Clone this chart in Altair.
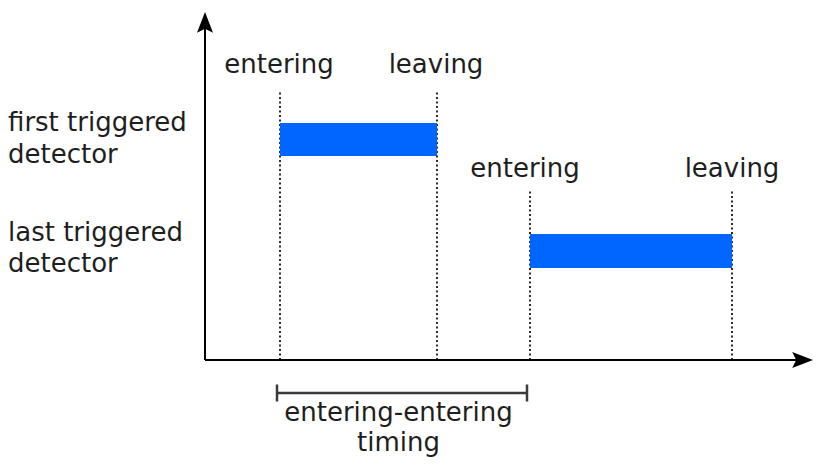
import altair as alt
import pandas as pd

# ---- data (time units measured from the origin, track height units) ----
event_t = [75, 232, 325, 527]
event_top = [270, 270, 170, 170]
event_labels = ["entering", "leaving", "entering", "leaving"]
label_t = [74, 231, 320, 527]
label_v = [287, 287, 183, 183]

bar_start = [75, 325]
bar_end = [232, 527]
bar_low = [204, 92]
bar_high = [237, 126]

row_labels = ["first triggered", "detector", "last triggered", "detector"]
row_v = [229, 197, 119, 88]
row_t = -197

axis_end_t = 604
axis_end_v = 345

bracket_start = 72
bracket_end = 322
bracket_v = -33
bracket_tick_half = 8.5
bottom_labels = ["entering-entering", "timing"]
bottom_v = [-61, -91]

FONT = "DejaVu Sans"
FS = 26
TXT = "#1e1e1e"

X = alt.Scale(domain=[-197, 608], nice=False, zero=False)
Y = alt.Scale(domain=[-97, 352], nice=False, zero=False)


def xq(f):
    return alt.X(f, type="quantitative", scale=X, axis=None)


def yq(f):
    return alt.Y(f, type="quantitative", scale=Y, axis=None)


# axis lines
axes_df = pd.DataFrame({
    "t0": [0, 0], "t1": [axis_end_t, 0],
    "v0": [0, 0], "v1": [0, axis_end_v],
})
axes = alt.Chart(axes_df).mark_rule(color="black", strokeWidth=2).encode(
    x=xq("t0"), x2="t1", y=yq("v0"), y2="v1")

arrow_right = alt.Chart(pd.DataFrame({"t": [608], "v": [0]})).mark_point(
    shape="M 0 0 L -2.6 -1 L -2.1 0 L -2.6 1 Z", size=256, filled=True,
    color="black", opacity=1, strokeWidth=0).encode(x=xq("t"), y=yq("v"))
arrow_up = alt.Chart(pd.DataFrame({"t": [0], "v": [348]})).mark_point(
    shape="M 0 0 L -1 2.6 L 0 2.1 L 1 2.6 Z", size=256, filled=True,
    color="black", opacity=1, strokeWidth=0).encode(x=xq("t"), y=yq("v"))

# dotted event lines
ev_df = pd.DataFrame({"t": event_t, "top": event_top, "base": [0] * 4})
dots = alt.Chart(ev_df).mark_rule(color="#2a2a2a", strokeWidth=2,
                                  strokeDash=[2, 2.5]).encode(
    x=xq("t"), y=yq("base"), y2="top")

# bars
bar_df = pd.DataFrame({"s": bar_start, "e": bar_end, "lo": bar_low, "hi": bar_high})
bars = alt.Chart(bar_df).mark_rect(color="#0066ff").encode(
    x=xq("s"), x2="e", y=yq("lo"), y2="hi")

# event labels
lab_df = pd.DataFrame({"t": label_t, "v": label_v, "txt": event_labels})
labels = alt.Chart(lab_df).mark_text(
    font=FONT, fontSize=FS, color=TXT, align="center", baseline="alphabetic"
).encode(x=xq("t"), y=yq("v"), text="txt:N")

# row labels
row_df = pd.DataFrame({"t": [row_t] * 4, "v": row_v, "txt": row_labels})
rows = alt.Chart(row_df).mark_text(
    font=FONT, fontSize=FS, color=TXT, align="left", baseline="alphabetic"
).encode(x=xq("t"), y=yq("v"), text="txt:N")

# bracket
br_df = pd.DataFrame({
    "t0": [bracket_start, bracket_start, bracket_end],
    "t1": [bracket_end, bracket_start, bracket_end],
    "v0": [bracket_v, bracket_v - bracket_tick_half, bracket_v - bracket_tick_half],
    "v1": [bracket_v, bracket_v + bracket_tick_half, bracket_v + bracket_tick_half],
})
bracket = alt.Chart(br_df).mark_rule(color="#3a3a3a", strokeWidth=2.5).encode(
    x=xq("t0"), x2="t1", y=yq("v0"), y2="v1")

bot_df = pd.DataFrame({"t": [(bracket_start + bracket_end) / 2 - 3.5] * 2,
                       "v": bottom_v, "txt": bottom_labels})
bottom = alt.Chart(bot_df).mark_text(
    font=FONT, fontSize=FS, color=TXT, align="center", baseline="alphabetic"
).encode(x=xq("t"), y=yq("v"), text="txt:N")

chart = alt.layer(dots, bars, axes, arrow_right, arrow_up, labels, rows,
                  bracket, bottom).properties(
    width=805, height=449, padding=0,
    autosize=alt.AutoSizeParams(type="none"),
).configure_view(stroke=None)

chart.save("out.html", embed_options={"renderer": "svg", "actions": False})
